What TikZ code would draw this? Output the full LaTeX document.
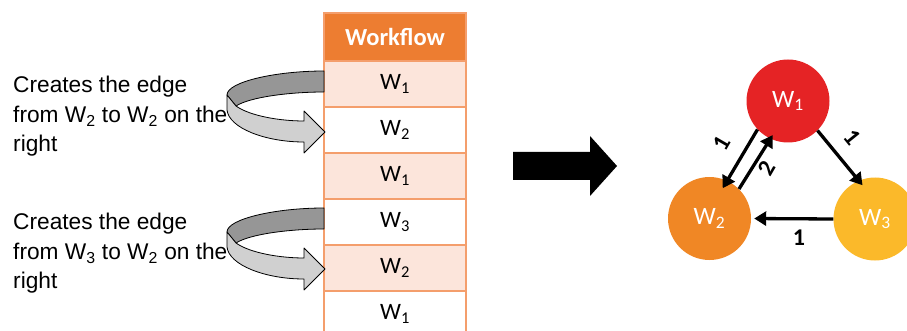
\documentclass[tikz,border=0pt]{standalone}
\usepackage{fontspec}
\setmainfont{Liberation Sans}
\newfontfamily\calfont{Carlito}
\usetikzlibrary{arrows.meta}
\definecolor{hdrorange}{RGB}{237,125,49}
\definecolor{cellborder}{RGB}{244,158,108}
\definecolor{cellpink}{RGB}{252,229,219}
\definecolor{ribdark}{RGB}{150,150,150}
\definecolor{riblight}{RGB}{208,208,208}
\definecolor{wred}{RGB}{229,35,37}
\definecolor{worange}{RGB}{240,135,37}
\definecolor{wyellow}{RGB}{251,185,42}
\newcommand\wsub[1]{\textsubscript{#1}}
\tikzset{
  cellbox/.style={draw=cellborder, line width=1.5pt, minimum width=142pt, minimum height=46pt,
    inner sep=0pt, font=\calfont\fontsize{23.5}{27}\selectfont},
  pinkcell/.style={cellbox, fill=cellpink},
  whitecell/.style={cellbox, fill=white},
  hdrcell/.style={cellbox, fill=hdrorange, minimum height=48pt, text=white,
    font=\calfont\bfseries\fontsize{24.5}{28}\selectfont},
  wnode/.style={circle, minimum size=83pt, inner sep=0pt, text=white,
    font=\calfont\fontsize{25}{29}\selectfont},
  wedge/.style={-{Triangle[length=12pt,width=14pt]}, line width=3.3pt},
  elabel/.style={font=\calfont\bfseries\fontsize{24}{28}\selectfont, inner sep=0pt},
  note/.style={align=left, anchor=north west, inner sep=0pt,
    font=\fontsize{22.7}{29.5}\selectfont},
  ribdarkstyle/.style={fill=ribdark, draw=black, line width=0.8pt, line join=round},
  riblightstyle/.style={fill=riblight, draw=black, line width=0.8pt, line join=round}
}
\begin{document}
\begin{tikzpicture}[x=1pt,y=-1pt]
\useasboundingbox (0,0) rectangle (907,331);

% table
\node[hdrcell]   (hd) at (395,37)  {Workflow};
\node[pinkcell]  (r1) at (395,84)  {W\wsub{1}};
\node[whitecell] (r2) at (395,130) {W\wsub{2}};
\node[pinkcell]  (r3) at (395,176) {W\wsub{1}};
\node[whitecell] (r4) at (395,222) {W\wsub{3}};
\node[pinkcell]  (r5) at (395,268) {W\wsub{2}};
\node[whitecell] (r6) at (395,314) {W\wsub{1}};

% ribbons
\foreach \d in {0,137}{
\begin{scope}[shift={(0,\d)}]
  \path[ribdarkstyle] (324,71) .. controls (275,71) and (227,82) .. (227,95)
     -- (236,106) .. controls (250,97) and (290,92) .. (324,92) -- cycle;
  \path[riblightstyle] (227,95) -- (236,106) .. controls (250,116) and (280,121) .. (304,121)
     -- (304,111) -- (325,132) -- (304,153) -- (304,142)
     .. controls (265,142) and (229,128) .. (227,110) -- cycle;
\end{scope}
}

% notes
\node[note] (n1) at (13,76) {Creates the edge\\from W\wsub{2} to W\wsub{2} on the\\right};
\node[note] (n2) at (13,213) {Creates the edge\\from W\wsub{3} to W\wsub{2} on the\\right};

% big arrow
\fill[black] (513,152) -- (590,152) -- (590,136) -- (617,166) -- (590,196) -- (590,180) -- (513,180) -- cycle;

% graph
\node[wnode, fill=wred]    (W1) at (788,101) {W\wsub{1}};
\node[wnode, fill=worange] (W2) at (709.5,218.5) {W\wsub{2}};
\node[wnode, fill=wyellow] (W3) at (875,219) {W\wsub{3}};

\draw[wedge, shorten >=-8.7pt] (W1.223) -- (W2.65);
\draw[wedge, shorten >=-4.4pt] (W2.45) -- (W1.245);
\draw[wedge, shorten >=-6pt] (W1.315) -- (W3.113);
\draw[wedge, shorten >=3pt] (W3.180) -- (W2.0);

\node[elabel, rotate=60]  (l1) at (722,143) {1};
\node[elabel, rotate=60]  (l2) at (767,168) {2};
\node[elabel, rotate=-51] (l3) at (852,137) {1};
\node[elabel]             (l4) at (799,238) {1};
\end{tikzpicture}
\end{document}
